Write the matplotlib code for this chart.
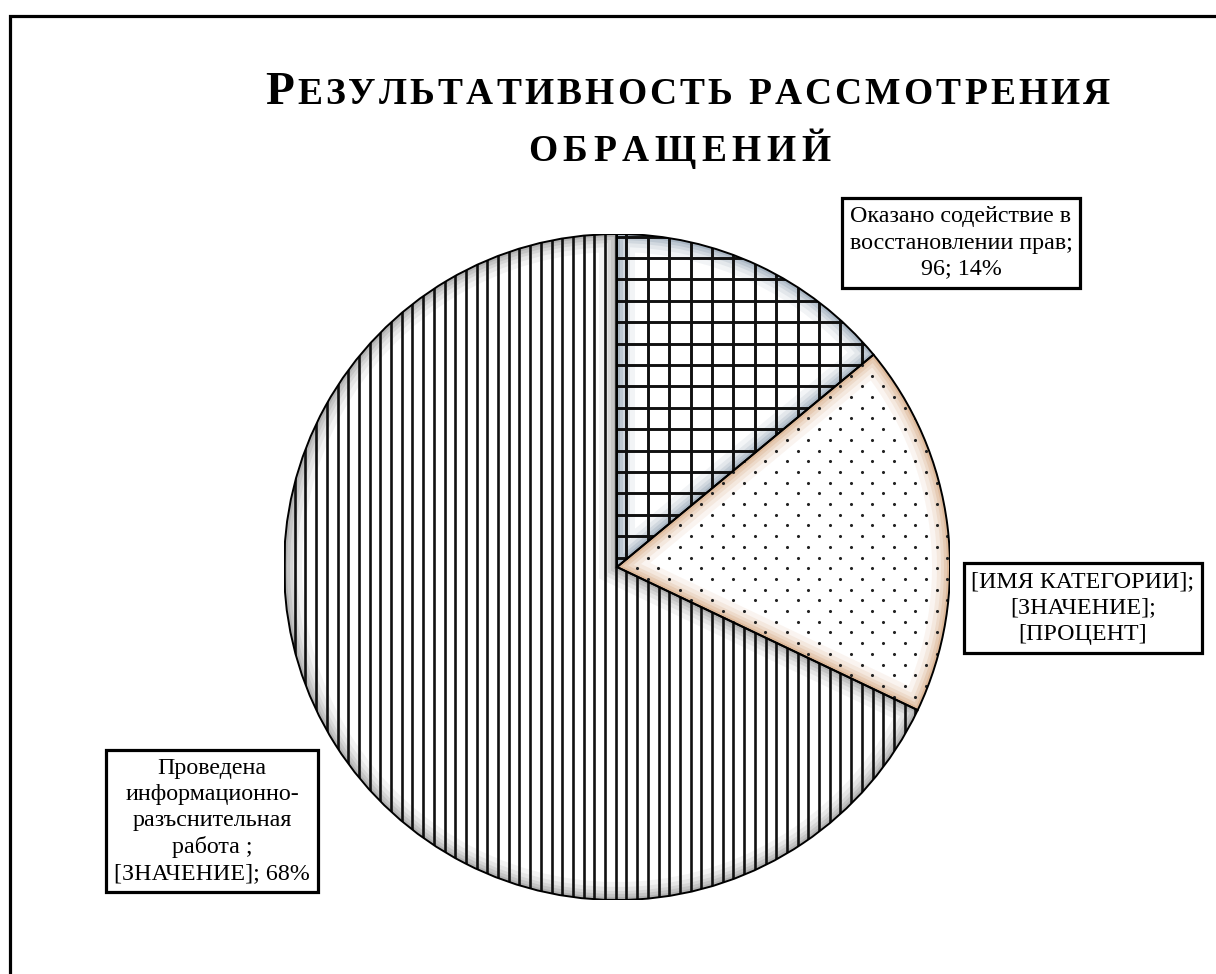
import matplotlib.pyplot as plt
import matplotlib.patches as mpatches
from matplotlib.transforms import IdentityTransform
import numpy as np

plt.rcParams['font.family'] = ['Liberation Serif', 'DejaVu Serif']

# данные диаграммы
categories = ["Оказано содействие в восстановлении прав",
              "[ИМЯ КАТЕГОРИИ]",
              "Проведена информационно-разъснительная работа"]
values = [96, 124, 466]
label_texts = ["Оказано содействие в\nвосстановлении прав;\n96; 14%",
               "[ИМЯ КАТЕГОРИИ];\n[ЗНАЧЕНИЕ];\n[ПРОЦЕНТ]",
               "Проведена\nинформационно-\nразъснительная\nработа ;\n[ЗНАЧЕНИЕ]; 68%"]
glow_colors = ["#5f7890", "#c47f45", "#707070"]

W, H = 1216, 974
fig = plt.figure(figsize=(W / 100, H / 100), dpi=100)
px = IdentityTransform()

# рамка вокруг всей области
fig.add_artist(mpatches.Rectangle((9.5, -20), 1400, H - 15.5 + 20, transform=px,
                                  fill=False, edgecolor="black", linewidth=2.3))

cx, cy, r = 617, 567, 333
ax = fig.add_axes([(cx - r) / W, (H - cy - r) / H, 2 * r / W, 2 * r / H])
wedges, _ = ax.pie(values, startangle=90, counterclock=False, colors=["white"] * 3,
                   wedgeprops=dict(edgecolor="none"))
ax.set_xlim(-1, 1)
ax.set_ylim(-1, 1)
ax.axis("off")

step = 10.7 / r  # шаг штриховки в единицах радиуса

for w, col in zip(wedges, glow_colors):
    # мягкая внутренняя тень по краю сектора
    for width_px, a in [(18, 0.08), (13, 0.10), (9, 0.13), (6, 0.16), (3, 0.22)]:
        g = mpatches.Wedge((0, 0), 1, w.theta1, w.theta2, fill=False,
                           edgecolor=col, linewidth=2 * width_px * 0.72, alpha=a,
                           transform=ax.transData, zorder=2)
        ax.add_patch(g)
        g.set_clip_path(w)

# сетка (первый сектор)
grid = np.arange(-1, 1.01, 2 * step)
lc = ax.vlines(grid, -1, 1, colors="#111111", linewidth=2.1, zorder=3)
lc.set_clip_path(wedges[0])
lc = ax.hlines(grid, -1, 1, colors="#111111", linewidth=2.1, zorder=3)
lc.set_clip_path(wedges[0])

# точки (второй сектор)
dx, dy = np.meshgrid(np.arange(-1, 1.01, 2 * step), np.arange(-1, 1.01, step))
dx = dx + (np.round((dy + 1) / step) % 2) * step
sc = ax.scatter(dx.ravel(), dy.ravel(), s=5, color="#222222", linewidths=0, zorder=3)
sc.set_clip_path(wedges[1])

# вертикальные линии (третий сектор)
lc = ax.vlines(np.arange(-1, 1.01, step), -1, 1, colors="#111111", linewidth=1.9, zorder=3)
lc.set_clip_path(wedges[2])

for w in wedges:
    ax.add_patch(mpatches.Wedge((0, 0), 1, w.theta1, w.theta2, fill=False,
                                edgecolor="black", linewidth=1.4, zorder=4))


def spaced_line(parts, x0, x1, baseline):
    # капитель с разрядкой: каждый символ отдельно
    rend = fig.canvas.get_renderer()
    chars = []
    for text, size in parts:
        for ch in text:
            t = fig.text(0, 0, ch, fontsize=size, fontweight="bold", transform=px)
            chars.append((ch, size, t.get_window_extent(rend).width))
            t.remove()
    total = sum(c[2] for c in chars)
    gap = (x1 - x0 - total) / (len(chars) - 1)
    x = x0
    for ch, size, wd in chars:
        fig.text(x, H - baseline, ch, fontsize=size, fontweight="bold",
                 transform=px, va="baseline", ha="left")
        x += wd + gap


spaced_line([("Р", 34), ("ЕЗУЛЬТАТИВНОСТЬ РАССМОТРЕНИЯ", 27)], 265, 1110, 104)
spaced_line([("ОБРАЩЕНИЙ", 27)], 528, 830, 161)

box = dict(boxstyle="square,pad=0.33", facecolor="white", edgecolor="black", linewidth=2.3)
label_pos = [(961, 243), (1083, 608), (212, 821)]
for (lx, ly), txt in zip(label_pos, label_texts):
    fig.text(lx, H - ly, txt, transform=px, fontsize=17.3, ha="center", va="center",
             multialignment="center", linespacing=1.32, bbox=box, zorder=5)

fig.savefig("out.png", dpi=100, facecolor="white")
